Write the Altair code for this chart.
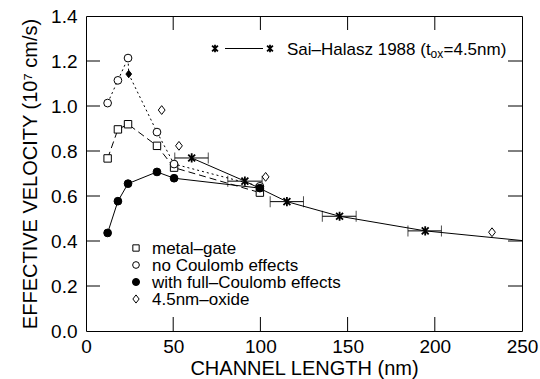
import altair as alt
import pandas as pd

# ---------------- data ----------------
gate_x = [12.4, 18.3, 24.1, 40.7, 50.5, 99.7]
metal_gate_y = [0.767, 0.896, 0.919, 0.823, 0.726, 0.615]
no_coulomb_y = [1.013, 1.114, 1.213, 0.884, 0.742, 0.643]
full_coulomb_y = [0.436, 0.577, 0.655, 0.707, 0.679, 0.635]

filled_diamond_x = [24.5]
filled_diamond_y = [1.142]

oxide_x = [43.4, 53.3, 103.0, 232.8]
oxide_y = [0.982, 0.823, 0.685, 0.439]

sai_x = [60.6, 91.1, 115.2, 145.4, 194.5]
sai_y = [0.769, 0.666, 0.575, 0.510, 0.445]
sai_lo = [50.9, 81.3, 105.6, 135.5, 184.6]
sai_hi = [70.1, 101.0, 124.7, 154.9, 203.8]
fit_end_x = [250.0]
fit_end_y = [0.402]

x_ticks = [0, 50, 100, 150, 200, 250]
y_ticks = [0.0, 0.2, 0.4, 0.6, 0.8, 1.0, 1.2, 1.4]
x_inner = [50, 100, 150, 200]
y_inner = [0.2, 0.4, 0.6, 0.8, 1.0, 1.2]

legend_labels = ["metal–gate", "no Coulomb effects", "with full–Coulomb effects", "4.5nm–oxide"]
sai_label = ["Sai–Halasz 1988 (t", "ox", "=4.5nm)"]

# ---------------- layout ----------------
W, H = 436, 315
FONT = "Liberation Sans"
TICK = 14

xs = alt.Scale(domain=[0, 250], nice=False, zero=False)
ys = alt.Scale(domain=[0, 1.4], nice=False, zero=False)

x_axis = alt.Axis(values=x_ticks, format="d", title="CHANNEL LENGTH (nm)", grid=False,
                  domain=False, ticks=False, labelPadding=6, labelFontSize=19,
                  labelFont=FONT, labelColor="black", titleFont=FONT, titleFontSize=20,
                  titleFontWeight="normal", titleColor="black", titlePadding=2, labelFlush=False)
y_axis = alt.Axis(values=y_ticks, format=".1f", title="EFFECTIVE VELOCITY (10⁷ cm/s)", grid=False,
                  domain=False, ticks=False, labelPadding=9, labelFontSize=19,
                  labelFont=FONT, labelColor="black", titleFont=FONT, titleFontSize=20,
                  titleFontWeight="normal", titleColor="black", titlePadding=10, labelFlush=False)

X = lambda f: alt.X(f, type="quantitative", scale=xs, axis=x_axis)
Y = lambda f: alt.Y(f, type="quantitative", scale=ys, axis=y_axis)

gate = pd.DataFrame({"x": gate_x, "mg": metal_gate_y, "nc": no_coulomb_y, "fc": full_coulomb_y})
dotted_path = pd.DataFrame({
    "x": gate_x[:3] + filled_diamond_x + gate_x[3:],
    "y": no_coulomb_y[:3] + filled_diamond_y + no_coulomb_y[3:],
})
fd = pd.DataFrame({"x": filled_diamond_x, "y": filled_diamond_y})
ox = pd.DataFrame({"x": oxide_x, "y": oxide_y})
sai = pd.DataFrame({"x": sai_x, "y": sai_y, "lo": sai_lo, "hi": sai_hi})
fit = pd.DataFrame({"x": sai_x + fit_end_x, "y": sai_y + fit_end_y})
xt = pd.DataFrame({"t": x_inner})
yt = pd.DataFrame({"t": y_inner})
one = pd.DataFrame({"a": [0]})

STAR = "M-0.75,-0.75L0.75,0.75M-0.75,0.75L0.75,-0.75M0,-1L0,1"
DIAMOND = "M0,-1.1L0.85,0L0,1.1L-0.85,0Z"

layers = []

# lines
layers.append(alt.Chart(gate).mark_line(color="black", strokeWidth=1, strokeDash=[7, 4])
              .encode(x=X("x"), y=Y("mg")))
layers.append(alt.Chart(dotted_path).mark_line(color="black", strokeWidth=1, strokeDash=[2, 3])
              .encode(x=X("x"), y=Y("y"), order="x:Q"))
layers.append(alt.Chart(gate).mark_line(color="black", strokeWidth=1)
              .encode(x=X("x"), y=Y("fc")))
layers.append(alt.Chart(fit).mark_line(color="black", strokeWidth=1)
              .encode(x=X("x"), y=Y("y")))

# error bars
layers.append(alt.Chart(sai).mark_rule(color="black", strokeWidth=1)
              .encode(x=X("lo"), x2="hi", y=Y("y")))
layers.append(alt.Chart(sai).mark_tick(color="black", orient="vertical", size=11, thickness=1)
              .encode(x=X("lo"), y=Y("y")))
layers.append(alt.Chart(sai).mark_tick(color="black", orient="vertical", size=11, thickness=1)
              .encode(x=X("hi"), y=Y("y")))

# markers
layers.append(alt.Chart(gate).mark_point(shape="square", size=55, filled=True, fill="white",
                                         stroke="black", strokeWidth=1, opacity=1)
              .encode(x=X("x"), y=Y("mg")))
layers.append(alt.Chart(gate).mark_point(shape="circle", size=60, filled=True, fill="white",
                                         stroke="black", strokeWidth=1, opacity=1)
              .encode(x=X("x"), y=Y("nc")))
layers.append(alt.Chart(gate).mark_point(shape="circle", size=60, filled=True, fill="black",
                                         stroke="black", strokeWidth=1, opacity=1)
              .encode(x=X("x"), y=Y("fc")))
layers.append(alt.Chart(fd).mark_point(shape=DIAMOND, size=45, filled=True, fill="black",
                                       stroke="black", strokeWidth=1, opacity=1)
              .encode(x=X("x"), y=Y("y")))
layers.append(alt.Chart(ox).mark_point(shape=DIAMOND, size=64, filled=True, fill="white",
                                       stroke="black", strokeWidth=1, opacity=1)
              .encode(x=X("x"), y=Y("y")))
layers.append(alt.Chart(sai).mark_point(shape=STAR, size=85, stroke="black", strokeWidth=1.8, opacity=1)
              .encode(x=X("x"), y=Y("y")))

# inner ticks
layers.append(alt.Chart(xt).mark_rule(color="black", strokeWidth=1)
              .encode(x=X("t"), y=alt.value(H), y2=alt.value(H - TICK)))
layers.append(alt.Chart(xt).mark_rule(color="black", strokeWidth=1)
              .encode(x=X("t"), y=alt.value(0), y2=alt.value(TICK)))
layers.append(alt.Chart(yt).mark_rule(color="black", strokeWidth=1)
              .encode(y=Y("t"), x=alt.value(0), x2=alt.value(TICK)))
layers.append(alt.Chart(yt).mark_rule(color="black", strokeWidth=1)
              .encode(y=Y("t"), x=alt.value(W), x2=alt.value(W - TICK)))

# bottom-left legend
sym_x, txt_x = 50, 66
rows_y = [232, 249, 266, 283]
legend_shapes = [("square", "white", 40), ("circle", "white", 45), ("circle", "black", 50), (DIAMOND, "white", 55)]
for (shp, fill, sz), lab, ry in zip(legend_shapes, legend_labels, rows_y):
    layers.append(alt.Chart(one).mark_point(shape=shp, size=sz, filled=True, fill=fill, stroke="black",
                                            strokeWidth=1, opacity=1)
                  .encode(x=alt.value(sym_x), y=alt.value(ry)))
    layers.append(alt.Chart(one).mark_text(text=lab, font=FONT, fontSize=17, align="left",
                                           baseline="middle", color="black")
                  .encode(x=alt.value(txt_x), y=alt.value(ry + 1)))

# top-right legend
ly = 32.5
layers.append(alt.Chart(one).mark_rule(color="black", strokeWidth=1)
              .encode(x=alt.value(139), x2=alt.value(177), y=alt.value(ly)))
for sx in (129, 184):
    layers.append(alt.Chart(one).mark_point(shape=STAR, size=60, stroke="black", strokeWidth=1.8, opacity=1)
                  .encode(x=alt.value(sx), y=alt.value(ly)))
layers.append(alt.Chart(one).mark_text(text=sai_label[0], font=FONT, fontSize=17, align="left",
                                       baseline="alphabetic", color="black")
              .encode(x=alt.value(201), y=alt.value(ly + 6)))
layers.append(alt.Chart(one).mark_text(text=sai_label[1], font=FONT, fontSize=12, align="left",
                                       baseline="alphabetic", color="black")
              .encode(x=alt.value(344.6), y=alt.value(ly + 9.5)))
layers.append(alt.Chart(one).mark_text(text=sai_label[2], font=FONT, fontSize=17, align="left",
                                       baseline="alphabetic", color="black")
              .encode(x=alt.value(357.5), y=alt.value(ly + 6)))

chart = alt.layer(*layers).properties(
    width=W, height=H, autosize="none",
    padding={"left": 86, "top": 16, "right": 18, "bottom": 48},
    background="white",
).configure_view(stroke="black", strokeWidth=1)

chart.save("out.html", embed_options={"renderer": "svg", "actions": False})
